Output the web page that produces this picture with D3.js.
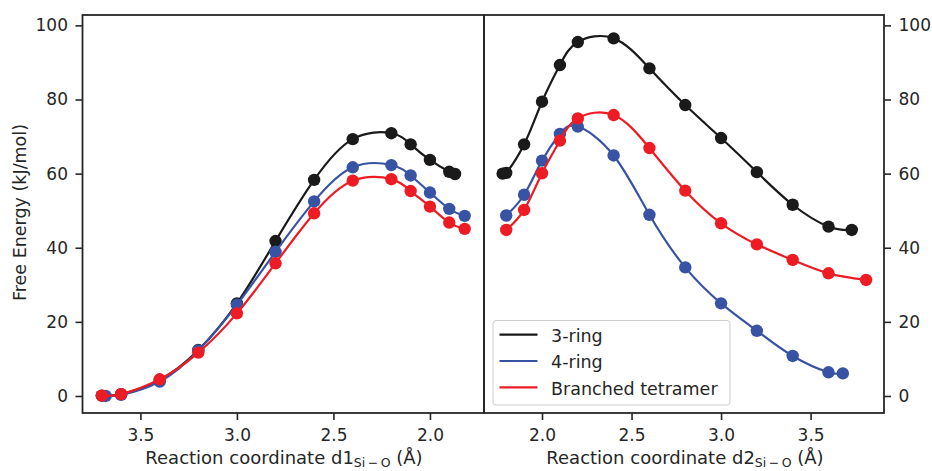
<!DOCTYPE html>
<html>
<head>
<meta charset="utf-8">
<script src="https://cdn.jsdelivr.net/npm/d3@7"></script>
<style>
  body { margin: 0; background: #fff; }
  text { font-family: "DejaVu Sans", sans-serif; fill: #262626; }
</style>
</head>
<body>
<div class="d3-container"></div>
<script>
// data
const seriesNames = ["3-ring", "4-ring", "Branched tetramer"]
const color = ["#1a1a1a", "#3953a4", "#ed1c24"]

// left panel, d1 Si-O
const d1_ring3_x = [3.70, 3.60, 3.40, 3.20, 3.00, 2.80, 2.60, 2.40, 2.20, 2.10, 2.00, 1.90, 1.87]
const d1_ring3_y = [0.1, 0.5, 4.3, 12.4, 25.0, 41.8, 58.3, 69.3, 70.9, 67.9, 63.7, 60.5, 59.9]
const d1_ring4_x = [3.68, 3.60, 3.40, 3.20, 3.00, 2.80, 2.60, 2.40, 2.20, 2.10, 2.00, 1.90, 1.82]
const d1_ring4_y = [0.0, 0.3, 3.9, 12.3, 24.6, 38.9, 52.5, 61.7, 62.3, 59.5, 54.9, 50.5, 48.6]
const d1_branch_x = [3.70, 3.60, 3.40, 3.20, 3.00, 2.80, 2.60, 2.40, 2.20, 2.10, 2.00, 1.90, 1.82]
const d1_branch_y = [0.1, 0.5, 4.5, 11.7, 22.3, 35.8, 49.3, 58.1, 58.5, 55.3, 51.1, 46.8, 45.1]

// right panel, d2 Si-O
const d2_ring3_x = [1.78, 1.80, 1.90, 2.00, 2.10, 2.20, 2.40, 2.60, 2.80, 3.00, 3.20, 3.40, 3.60, 3.73]
const d2_ring3_y = [60.0, 60.2, 67.9, 79.4, 89.3, 95.5, 96.5, 88.4, 78.5, 69.6, 60.4, 51.6, 45.7, 44.8]
const d2_ring4_x = [1.80, 1.90, 2.00, 2.10, 2.20, 2.40, 2.60, 2.80, 3.00, 3.20, 3.40, 3.60, 3.68]
const d2_ring4_y = [48.7, 54.3, 63.5, 70.7, 72.7, 64.9, 48.9, 34.7, 25.0, 17.6, 10.8, 6.4, 6.1]
const d2_branch_x = [1.80, 1.90, 2.00, 2.10, 2.20, 2.40, 2.60, 2.80, 3.00, 3.20, 3.40, 3.60, 3.81]
const d2_branch_y = [44.8, 50.2, 60.1, 68.9, 74.9, 75.8, 66.9, 55.4, 46.6, 40.9, 36.7, 33.1, 31.3]

const xTicks = [3.5, 3.0, 2.5, 2.0]
const yTicks = [0, 20, 40, 60, 80, 100]

const zip = (xs, ys) => xs.map((x, i) => ({x: x, y: ys[i]}))
const leftSeries = [zip(d1_ring3_x, d1_ring3_y), zip(d1_ring4_x, d1_ring4_y), zip(d1_branch_x, d1_branch_y)]
const rightSeries = [zip(d2_ring3_x, d2_ring3_y), zip(d2_ring4_x, d2_ring4_y), zip(d2_branch_x, d2_branch_y)]

const W = 932, H = 471
const plotTop = 15, plotBottom = 413
const svg = d3.select(".d3-container").append("svg")
  .attr("width", W)
  .attr("height", H)

const y = d3.scaleLinear().domain([-4.59, 102.8]).range([plotBottom, plotTop])
const xL = d3.scaleLinear().domain([3.80, 1.72]).range([82.5, 484])
const xR = d3.scaleLinear().domain([1.676, 3.91]).range([484, 884])

const fmt = d3.format(".1f")

const drawPanel = function(x, series, side) {
  const g = svg.append("g")
  const x0 = x.range()[0], x1 = x.range()[1]

  series.forEach((pts, i) => {
    const line = d3.line()
      .x((d) => x(d.x))
      .y((d) => y(d.y))
      .curve(d3.curveNatural)
    g.append("path")
      .attr("d", line(pts))
      .style("fill", "none")
      .style("stroke", color[i])
      .style("stroke-width", 2.2)
    g.selectAll(null)
      .data(pts)
      .enter()
      .append("circle")
      .attr("cx", (d) => x(d.x))
      .attr("cy", (d) => y(d.y))
      .attr("r", 6.2)
      .style("fill", color[i])
  })

  // x axis
  const xa = g.append("g").attr("transform", "translate(0," + plotBottom + ")")
    .call(d3.axisBottom(x).tickValues(xTicks).tickFormat(fmt).tickSize(7).tickPadding(8.5))
  xa.select(".domain").remove()

  // y axis
  const ya = g.append("g")
    .attr("transform", "translate(" + (side == "left" ? x0 : x1) + ",0)")
    .call((side == "left" ? d3.axisLeft(y) : d3.axisRight(y))
      .tickValues(yTicks).tickSize(7).tickPadding(7.5))
  ya.select(".domain").remove()

  g.selectAll(".tick line").style("stroke", "#262626").style("stroke-width", 1.6)
  g.selectAll(".tick text")
    .style("font-family", "DejaVu Sans")
    .style("font-size", "17px")
    .style("fill", "#262626")

  // frame
  g.append("rect")
    .attr("x", Math.min(x0, x1)).attr("y", plotTop)
    .attr("width", Math.abs(x1 - x0)).attr("height", plotBottom - plotTop)
    .style("fill", "none")
    .style("stroke", "#262626")
    .style("stroke-width", 1.8)
}

drawPanel(xL, leftSeries, "left")
drawPanel(xR, rightSeries, "right")

// axis titles
const xTitle = function(cx, num) {
  const t = svg.append("text")
    .attr("x", cx).attr("y", 464)
    .attr("text-anchor", "middle")
    .style("font-size", "18px")
  t.append("tspan").text("Reaction coordinate d" + num)
  t.append("tspan").attr("dy", 3).style("font-size", "12.5px").text("Si\u2009\u2212\u2009O")
  t.append("tspan").attr("dy", -3).text(" (\u00c5)")
}
xTitle(284, 1)
xTitle(685, 2)

svg.append("text")
  .attr("transform", "translate(25.5,212.5) rotate(-90)")
  .attr("text-anchor", "middle")
  .style("font-size", "17.5px")
  .text("Free Energy (kJ/mol)")

// legend
const legend = svg.append("g")
legend.append("rect")
  .attr("x", 493).attr("y", 320.5)
  .attr("width", 237).attr("height", 84.5)
  .attr("rx", 3)
  .style("fill", "#fff")
  .style("fill-opacity", 0.8)
  .style("stroke", "#cccccc")

seriesNames.forEach((name, i) => {
  const ly = 334.7 + i * 26.3
  legend.append("line")
    .attr("x1", 499.5).attr("x2", 537.5)
    .attr("y1", ly).attr("y2", ly)
    .style("stroke", color[i])
    .style("stroke-width", 2.2)
  legend.append("text")
    .attr("x", 551).attr("y", ly + 7.4)
    .style("font-size", "17.5px")
    .text(name)
})
</script>
</body>
</html>
